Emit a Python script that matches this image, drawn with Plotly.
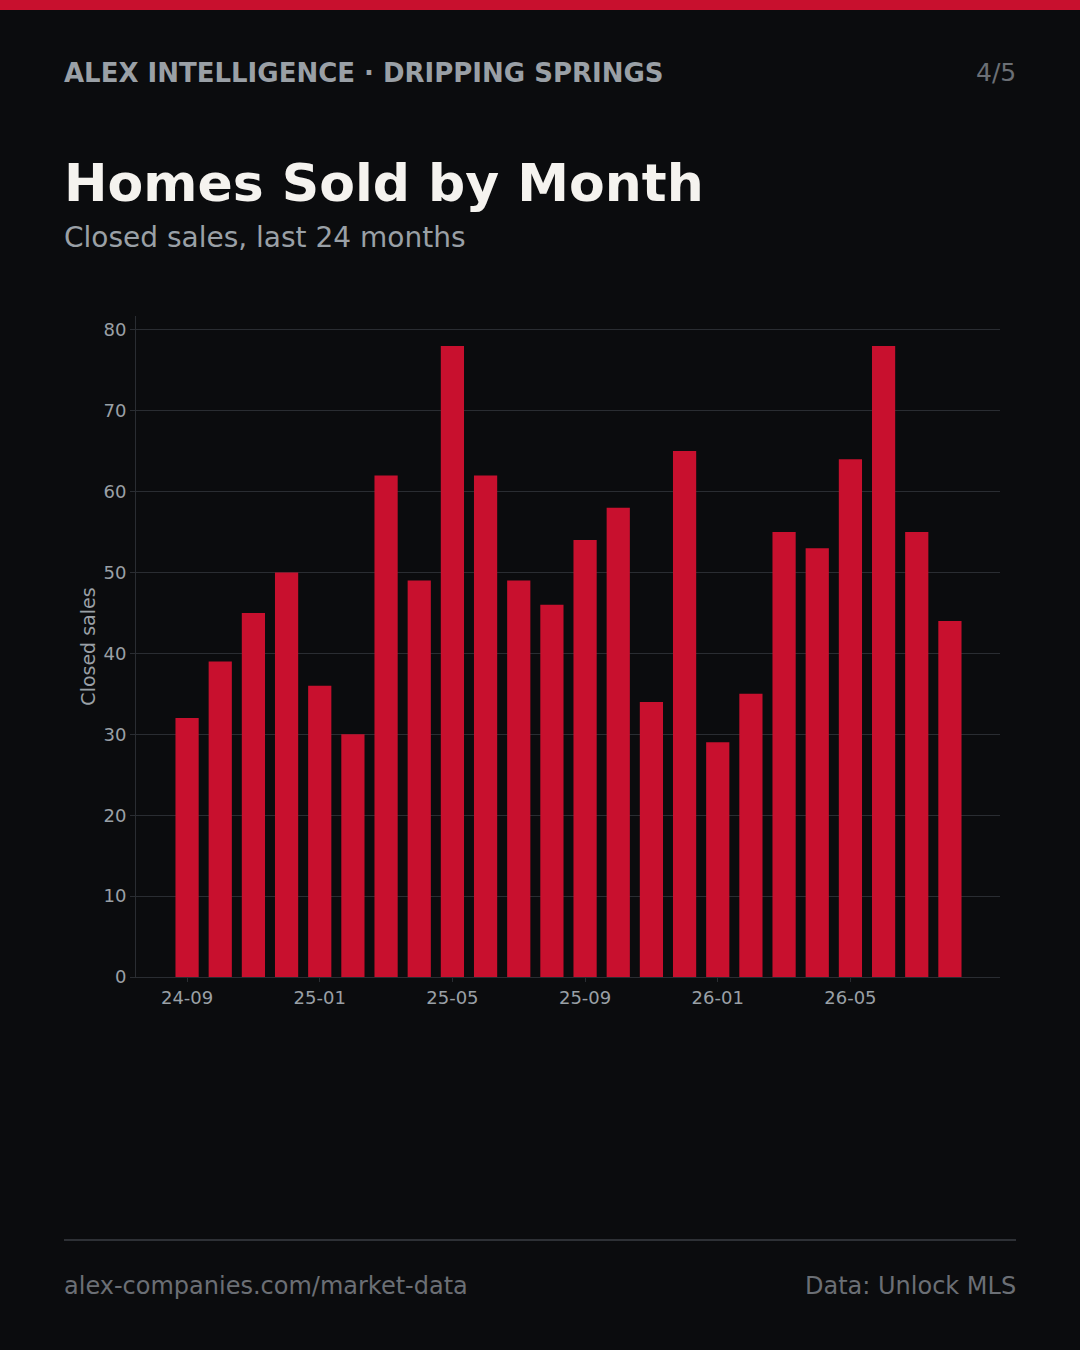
import plotly.graph_objects as go

months = ["24-09", "24-10", "24-11", "24-12", "25-01", "25-02", "25-03", "25-04",
          "25-05", "25-06", "25-07", "25-08", "25-09", "25-10", "25-11", "25-12",
          "26-01", "26-02", "26-03", "26-04", "26-05", "26-06", "26-07", "26-08"]
closed_sales = [32, 39, 45, 50, 36, 30, 62, 49, 78, 62, 49, 46,
                54, 58, 34, 65, 29, 35, 55, 53, 64, 78, 55, 44]
tick_labels = ["24-09", "25-01", "25-05", "25-09", "26-01", "26-05"]

W, H = 1080, 1350
L, R, T, B = 136, 1000, 316, 977
FONT = "DejaVu Sans"
BG = "#0b0c0e"
RED = "#c8102e"
GRID = "#2a2d32"


def px(x):
    return (x - L) / (R - L)


def py(y):
    return (B - y) / (B - T)


fig = go.Figure(go.Bar(
    x=list(range(len(months))),
    y=closed_sales,
    marker=dict(color=RED, line=dict(width=0)),
    width=0.7,
    hovertext=months,
))

fig.update_layout(
    width=W, height=H,
    margin=dict(l=L, r=W - R, t=T, b=H - B, pad=0),
    paper_bgcolor=BG, plot_bgcolor=BG,
    showlegend=False,
    font=dict(family=FONT, color="#9aa0a6", size=18),
    xaxis=dict(
        range=[-1.54, 24.51],
        tickmode="array",
        tickvals=[months.index(t) for t in tick_labels],
        ticktext=tick_labels,
        showgrid=False, zeroline=False,
        showline=True, linecolor=GRID, linewidth=1,
        ticks="outside", ticklen=4, tickcolor=GRID,
        tickfont=dict(size=18, color="#9aa0a6"),
    ),
    yaxis=dict(
        range=[0, 81.7],
        dtick=10,
        showgrid=True, gridcolor=GRID, gridwidth=1,
        zeroline=False,
        showline=True, linecolor=GRID, linewidth=1,
        ticks="outside", ticklen=5, tickcolor=GRID,
        tickfont=dict(size=18, color="#9aa0a6"),
        title=dict(text="Closed sales", font=dict(size=19, color="#9aa0a6"), standoff=2),
    ),
)

shapes = [
    dict(type="rect", xref="paper", yref="paper", x0=px(0), x1=px(W), y0=py(10), y1=py(0),
         fillcolor=RED, line=dict(width=0), layer="above"),
    dict(type="line", xref="paper", yref="paper", x0=px(64), x1=px(1016), y0=py(1240), y1=py(1240),
         line=dict(color="#2e3136", width=2)),
]
fig.update_layout(shapes=shapes)

anns = [
    dict(text="<b>ALEX INTELLIGENCE · DRIPPING SPRINGS</b>", x=px(62), y=py(73),
         xanchor="left", yanchor="middle", font=dict(size=26, color="#9aa0a6")),
    dict(text="4/5", x=px(1018), y=py(73), xanchor="right", yanchor="middle",
         font=dict(size=25, color="#6b6f75")),
    dict(text="<b>Homes Sold by Month</b>", x=px(62), y=py(183), xanchor="left", yanchor="middle",
         font=dict(size=52, color="#f5f3ef")),
    dict(text="Closed sales, last 24 months", x=px(62), y=py(238), xanchor="left", yanchor="middle",
         font=dict(size=28, color="#9aa0a6")),
    dict(text="alex-companies.com/market-data", x=px(62), y=py(1286), xanchor="left", yanchor="middle",
         font=dict(size=24, color="#6b6f75")),
    dict(text="Data: Unlock MLS", x=px(1018), y=py(1286), xanchor="right", yanchor="middle",
         font=dict(size=24, color="#6b6f75")),
]
for a in anns:
    a.update(xref="paper", yref="paper", showarrow=False, font=dict(family=FONT, **a["font"]))
fig.update_layout(annotations=anns)

fig.write_html("out.html")
